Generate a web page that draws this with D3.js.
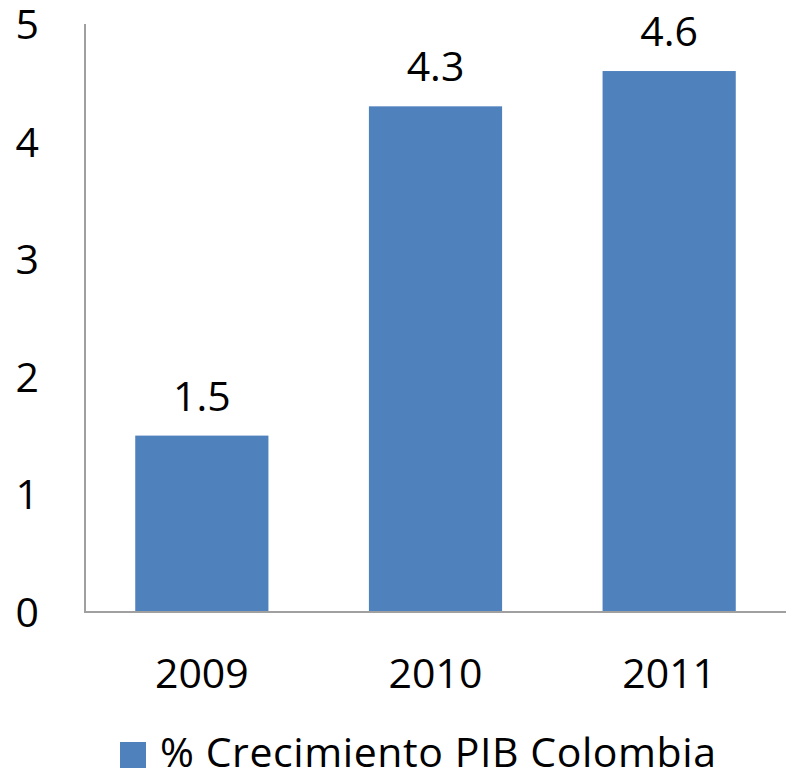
<!DOCTYPE html>
<html>
<head>
<meta charset="utf-8">
<script src="https://cdn.jsdelivr.net/npm/d3@7"></script>
<style>
  body { margin: 0; background: #fff; }
  text { font-family: "Open Sans", sans-serif; fill: #000; }
</style>
</head>
<body>
<div id="chart"></div>
<script>
// chart data
const years = ["2009", "2010", "2011"];
const growth = [1.5, 4.3, 4.6];
const yTicks = [0, 1, 2, 3, 4, 5];
const seriesName = "% Crecimiento PIB Colombia";

const width = 790, height = 774;
const plot = {left: 85, right: 786, top: 24, bottom: 612};
const barColor = "#4F81BD";
const axisColor = "#A0A0A0";
const fontSize = 41;

let svg = d3.select("#chart")
    .append("svg")
    .attr("width", width)
    .attr("height", height);

let x = d3.scaleBand()
    .domain(years)
    .range([plot.left, plot.right])
    .paddingInner(0.43)
    .paddingOuter(0.215);

let y = d3.scaleLinear()
    .domain([0, 5])
    .range([plot.bottom, plot.top]);

// y tick labels
svg.append("g")
    .selectAll("text")
    .data(yTicks)
    .enter()
    .append("text")
    .attr("x", 39)
    .attr("y", d => y(d) + 15)
    .style("text-anchor", "end")
    .style("font-size", fontSize + "px")
    .text(d => d);

// bars
svg.append("g")
    .selectAll("rect")
    .data(growth)
    .enter()
    .append("rect")
    .attr("x", (d, i) => x(years[i]))
    .attr("y", d => y(d))
    .attr("width", x.bandwidth())
    .attr("height", d => y(0) - y(d))
    .attr("fill", barColor);

// value labels
svg.append("g")
    .selectAll("text")
    .data(growth)
    .enter()
    .append("text")
    .attr("x", (d, i) => x(years[i]) + x.bandwidth() / 2)
    .attr("y", d => y(d) - 25)
    .style("text-anchor", "middle")
    .style("font-size", fontSize + "px")
    .text(d => d.toFixed(1));

// axes lines
svg.append("line")
    .attr("x1", plot.left).attr("x2", plot.left)
    .attr("y1", plot.top).attr("y2", plot.bottom)
    .attr("stroke", axisColor)
    .attr("stroke-width", 2);

svg.append("line")
    .attr("x1", plot.left - 1).attr("x2", plot.right)
    .attr("y1", plot.bottom).attr("y2", plot.bottom)
    .attr("stroke", axisColor)
    .attr("stroke-width", 2);

// x category labels
svg.append("g")
    .selectAll("text")
    .data(years)
    .enter()
    .append("text")
    .attr("x", d => x(d) + x.bandwidth() / 2)
    .attr("y", 688)
    .style("text-anchor", "middle")
    .style("font-size", fontSize + "px")
    .text(d => d);

// legend
let legend = svg.append("g");
legend.append("rect")
    .attr("x", 120)
    .attr("y", 742)
    .attr("width", 26)
    .attr("height", 26)
    .attr("fill", barColor);
legend.append("text")
    .attr("x", 160)
    .attr("y", 767)
    .attr("textLength", 556)
    .attr("lengthAdjust", "spacing")
    .style("font-size", fontSize + "px")
    .text(seriesName);
</script>
</body>
</html>
